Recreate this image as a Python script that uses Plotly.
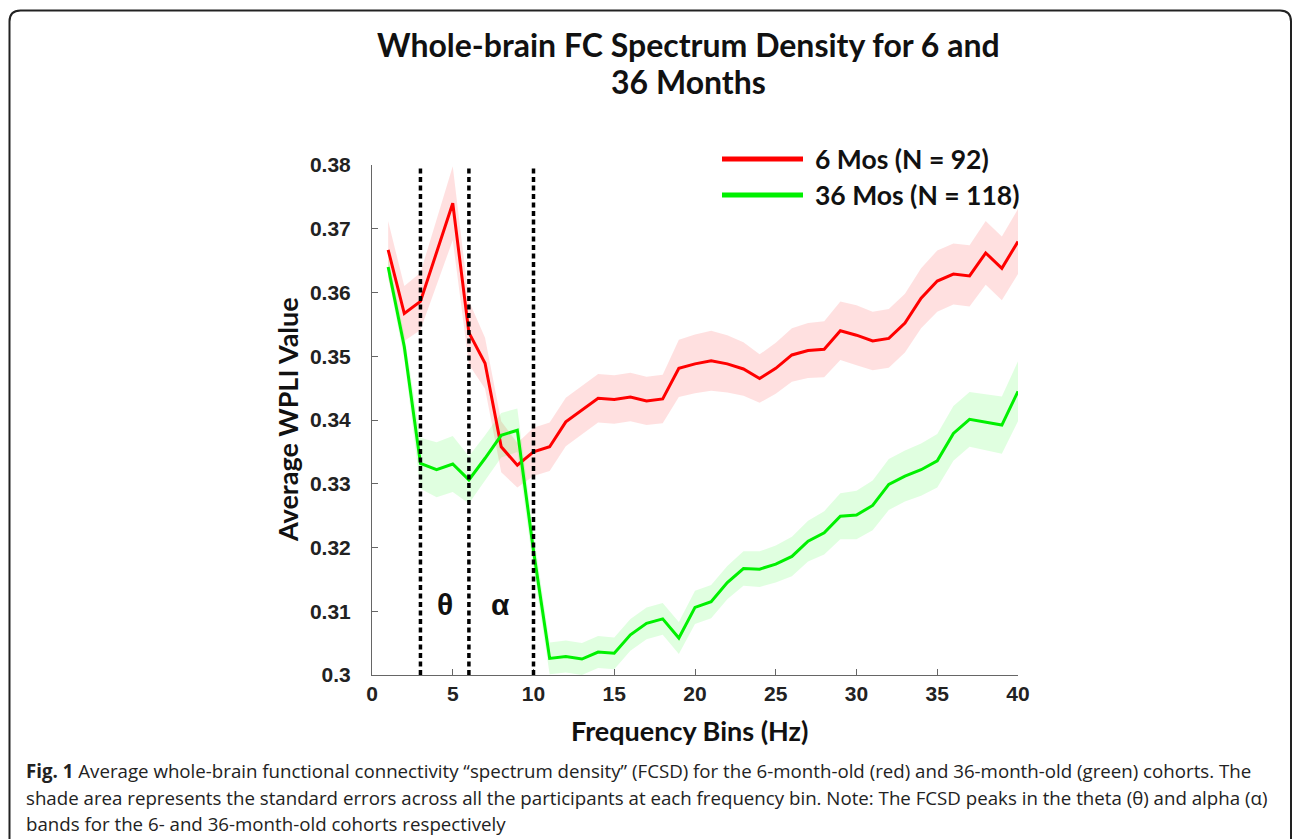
import plotly.graph_objects as go

# ---------------- data ----------------
freq = list(range(1, 41))

mos6_mean = [0.3667, 0.3567, 0.3586, 0.3663, 0.3740, 0.3537, 0.3489, 0.3358, 0.3329, 0.3350,
             0.3358, 0.3397, 0.3416, 0.3434, 0.3432, 0.3436, 0.3430, 0.3433, 0.3481, 0.3488,
             0.3493, 0.3488, 0.3480, 0.3465, 0.3481, 0.3502, 0.3509, 0.3511, 0.3540, 0.3533,
             0.3524, 0.3528, 0.3552, 0.3591, 0.3618, 0.3629, 0.3626, 0.3662, 0.3638, 0.3680]
mos6_se = [0.0045, 0.0043, 0.0045, 0.0052, 0.0058, 0.0050, 0.0040, 0.0040, 0.0035, 0.0038,
           0.0038, 0.0038, 0.0038, 0.0038, 0.0038, 0.0038, 0.0038, 0.0038, 0.0045, 0.0046,
           0.0047, 0.0045, 0.0042, 0.0038, 0.0040, 0.0042, 0.0043, 0.0044, 0.0046, 0.0047,
           0.0046, 0.0046, 0.0046, 0.0047, 0.0048, 0.0048, 0.0048, 0.0050, 0.0050, 0.0051]

mos36_mean = [0.3640, 0.3515, 0.3332, 0.3322, 0.3331, 0.3306, 0.3340, 0.3376, 0.3384, 0.3195,
              0.3026, 0.3029, 0.3025, 0.3036, 0.3034, 0.3063, 0.3081, 0.3088, 0.3058, 0.3106,
              0.3115, 0.3145, 0.3167, 0.3166, 0.3174, 0.3186, 0.3210, 0.3223, 0.3249, 0.3251,
              0.3266, 0.3299, 0.3312, 0.3322, 0.3336, 0.3379, 0.3401, 0.3397, 0.3392, 0.3445]
mos36_se = [0.0015, 0.0020, 0.0040, 0.0043, 0.0044, 0.0037, 0.0036, 0.0035, 0.0034, 0.0028,
            0.0025, 0.0025, 0.0025, 0.0025, 0.0025, 0.0025, 0.0025, 0.0025, 0.0025, 0.0026,
            0.0026, 0.0026, 0.0027, 0.0028, 0.0029, 0.0031, 0.0032, 0.0034, 0.0036, 0.0038,
            0.0039, 0.0040, 0.0040, 0.0041, 0.0042, 0.0043, 0.0043, 0.0044, 0.0045, 0.0047]

band_edges = [3, 6, 10]
band_labels = [("θ", 4.5, 0.3110), ("α", 7.95, 0.3110)]

x_ticks = [0, 5, 10, 15, 20, 25, 30, 35, 40]
y_ticks = [0.30, 0.31, 0.32, 0.33, 0.34, 0.35, 0.36, 0.37, 0.38]
y_tick_text = ["0.3", "0.31", "0.32", "0.33", "0.34", "0.35", "0.36", "0.37", "0.38"]

series = [
    ("6 Mos (N = 92)", mos6_mean, mos6_se, "#ff0000", "rgba(255,0,0,0.12)"),
    ("36 Mos (N = 118)", mos36_mean, mos36_se, "#00f000", "rgba(0,255,0,0.12)"),
]

caption_lines = [
    "<b>Fig. 1</b> Average whole-brain functional connectivity “spectrum density” (FCSD) for the "
    "6-month-old (red) and 36-month-old (green) cohorts. The",
    "shade area represents the standard errors across all the participants at each frequency bin. "
    "Note: The FCSD peaks in the theta (θ) and alpha (α)",
    "bands for the 6- and 36-month-old cohorts respectively",
]

# ---------------- layout geometry (pixels) ----------------
W, H = 1292, 839
L, R, T, B = 372, 1018, 165, 675  # plot area


def px(xp):
    return (xp - L) / (R - L)


def py(yp):
    return (B - yp) / (B - T)


TITLE_FONT = "Lato"
fig = go.Figure()

for name, mean, se, col, fillcol in series:
    upper = [m + s for m, s in zip(mean, se)]
    lower = [m - s for m, s in zip(mean, se)]
    fig.add_trace(go.Scatter(
        x=freq + freq[::-1], y=upper + lower[::-1], fill="toself",
        fillcolor=fillcol, line=dict(width=0), mode="lines",
        hoverinfo="skip", showlegend=False))

for name, mean, se, col, fillcol in series:
    fig.add_trace(go.Scatter(
        x=freq, y=mean, mode="lines", name=name,
        line=dict(color=col, width=3), showlegend=False))

shapes = []
for e in band_edges:
    shapes.append(dict(type="line", xref="x", yref="y", x0=e, x1=e, y0=0.30, y1=0.38,
                       line=dict(color="black", width=3.5, dash="5px,3.5px"), layer="above"))

# custom legend
legend_rows = [(159, series[0]), (195, series[1])]
annotations = []
for ypix, (name, mean, se, col, fillcol) in legend_rows:
    shapes.append(dict(type="line", xref="paper", yref="paper",
                       x0=px(722), x1=px(803), y0=py(ypix), y1=py(ypix),
                       line=dict(color=col, width=5)))
    annotations.append(dict(xref="paper", yref="paper", x=px(813), y=py(ypix),
                            xanchor="left", yanchor="middle", showarrow=False,
                            text="<b>%s</b>" % name,
                            font=dict(family=TITLE_FONT, size=26.5, color="#111")))

# band labels
for txt, xv, yv in band_labels:
    annotations.append(dict(xref="x", yref="y", x=xv, y=yv, showarrow=False,
                            text="<b>%s</b>" % txt,
                            font=dict(family="Liberation Sans", size=30, color="#111")))

# title
annotations.append(dict(xref="paper", yref="paper", x=px(688), y=py(45),
                        xanchor="center", yanchor="middle", showarrow=False,
                        text="<b>Whole-brain FC Spectrum Density for 6 and</b>",
                        font=dict(family=TITLE_FONT, size=32, color="#111")))
annotations.append(dict(xref="paper", yref="paper", x=px(688), y=py(82),
                        xanchor="center", yanchor="middle", showarrow=False,
                        text="<b>36 Months</b>",
                        font=dict(family=TITLE_FONT, size=32, color="#111")))

# axis titles
annotations.append(dict(xref="paper", yref="paper", x=px(287), y=py(420),
                        xanchor="center", yanchor="middle", showarrow=False, textangle=-90,
                        text="<b>Average WPLI Value</b>",
                        font=dict(family=TITLE_FONT, size=27, color="#111")))
annotations.append(dict(xref="paper", yref="paper", x=px(689), y=py(730),
                        xanchor="center", yanchor="middle", showarrow=False,
                        text="<b>Frequency Bins (Hz)</b>",
                        font=dict(family=TITLE_FONT, size=27, color="#111")))

# caption
for i, (line, ypix) in enumerate(zip(caption_lines, [770, 797, 823])):
    annotations.append(dict(xref="paper", yref="paper", x=px(24), y=py(ypix),
                            xanchor="left", yanchor="middle", showarrow=False, align="left",
                            text=line,
                            font=dict(family="Open Sans", size=18.7, color="#222")))

# rounded frame
x0, x1, y0, y1, r = 9.5, 1291, 10.5, 860, 11


def P(a, b):
    return "%.5f,%.5f" % (px(a), py(b))


path = ("M " + P(x0, y1) + " L " + P(x0, y0 + r) + " Q " + P(x0, y0) + " " + P(x0 + r, y0) +
        " L " + P(x1 - r, y0) + " Q " + P(x1, y0) + " " + P(x1, y0 + r) + " L " + P(x1, y1))
shapes.append(dict(type="path", xref="paper", yref="paper", path=path,
                   line=dict(color="#222", width=2)))

fig.update_layout(
    width=W, height=H,
    margin=dict(l=L, r=W - R, t=T, b=H - B),
    paper_bgcolor="white", plot_bgcolor="white",
    shapes=shapes, annotations=annotations,
    showlegend=False,
    xaxis=dict(range=[0, 40], tickvals=x_ticks, ticktext=["<b>%d</b>" % v for v in x_ticks],
               showgrid=False, zeroline=False, showline=True, linecolor="#666", linewidth=1,
               ticks="inside", ticklen=6, tickcolor="#666",
               tickfont=dict(family="Liberation Sans", size=21, color="#222")),
    yaxis=dict(range=[0.30, 0.38], tickvals=y_ticks, ticktext=["<b>%s</b>" % t for t in y_tick_text],
               showgrid=False, zeroline=False, showline=True, linecolor="#666", linewidth=1,
               ticks="inside", ticklen=6, tickcolor="#666", ticklabelstandoff=16,
               tickfont=dict(family="Liberation Sans", size=21, color="#222")),
)

fig.write_html("out.html")
